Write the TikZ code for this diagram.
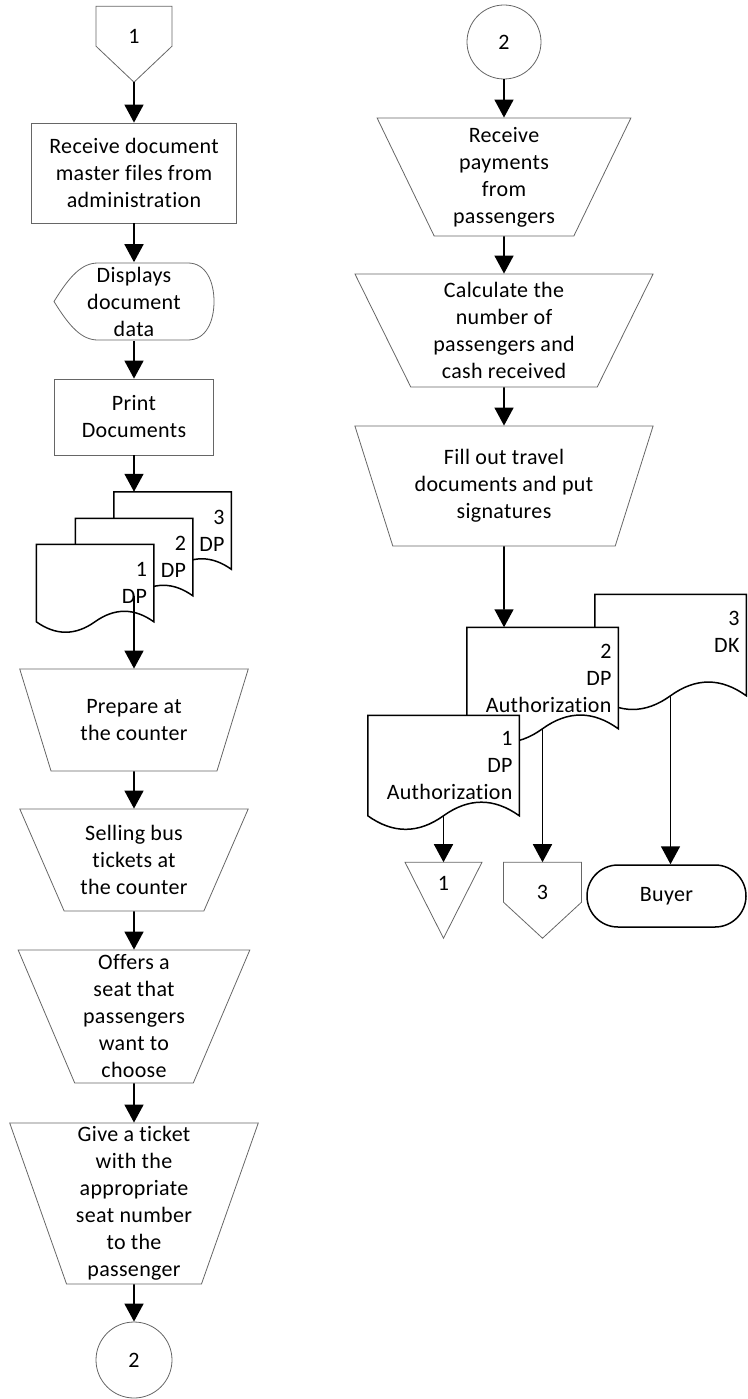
\documentclass[tikz,border=0pt]{standalone}
\usepackage{fontspec}
\setmainfont{Carlito}[Ligatures=NoCommon,LetterSpace=1.5]
\usetikzlibrary{positioning,shapes.geometric,shapes.misc,arrows.meta}

% paper shape with a wavy lower edge
\makeatletter
\newdimen\docL \newdimen\docR \newdimen\docM \newdimen\docT \newdimen\docB \newdimen\docW \newdimen\docH
\pgfdeclareshape{docshape}{
  \inheritsavedanchors[from=rectangle]
  \inheritanchorborder[from=rectangle]
  \inheritanchor[from=rectangle]{center}
  \inheritanchor[from=rectangle]{north}
  \inheritanchor[from=rectangle]{south}
  \inheritanchor[from=rectangle]{east}
  \inheritanchor[from=rectangle]{west}
  \inheritanchor[from=rectangle]{north east}
  \inheritanchor[from=rectangle]{north west}
  \inheritanchor[from=rectangle]{south east}
  \inheritanchor[from=rectangle]{south west}
  \backgroundpath{%
    \southwest \docL=\pgf@x \docB=\pgf@y
    \northeast \docR=\pgf@x \docT=\pgf@y
    \docM=.5\docL \advance\docM by .5\docR
    \docW=\docR \advance\docW by -\docL \docW=.16667\docW
    \docH=\docT \advance\docH by -\docB \docH=.18\docH
    \pgfpathmoveto{\pgfqpoint{\docL}{\docT}}
    \pgfpathlineto{\pgfqpoint{\docR}{\docT}}
    \pgfpathlineto{\pgfqpoint{\docR}{\docB}}
    \pgfpathcurveto{\pgfpointadd{\pgfqpoint{\docR}{\docB}}{\pgfqpoint{-\docW}{\docH}}}
                   {\pgfpointadd{\pgfqpoint{\docM}{\docB}}{\pgfqpoint{\docW}{\docH}}}
                   {\pgfqpoint{\docM}{\docB}}
    \pgfpathcurveto{\pgfpointadd{\pgfqpoint{\docM}{\docB}}{\pgfqpoint{-\docW}{-\docH}}}
                   {\pgfpointadd{\pgfqpoint{\docL}{\docB}}{\pgfqpoint{\docW}{-\docH}}}
                   {\pgfqpoint{\docL}{\docB}}
    \pgfpathclose
  }
}
\makeatother

\begin{document}
\begin{tikzpicture}[x=1pt,y=-1pt,->,>={Triangle[length=18pt,width=19pt]},line width=1.6pt,on grid,
    every node/.style={font=\fontsize{22}{27}\selectfont,align=center,inner sep=0pt},
    shape line/.style={draw=black!60,line width=0.8pt},
    proc/.style={rectangle,shape line},
    manual/.style={trapezium,shape border rotate=180,trapezium stretches=true,shape line},
    conn/.style={circle,shape line},
    paper/.style={docshape,draw,fill=white,line width=1.5pt,align=right,inner xsep=6pt},
    small paper/.style={paper,text width=104pt,minimum height=76pt},
    big paper/.style={paper,text width=138pt,minimum height=100pt}]
  \useasboundingbox (0,0) rectangle (747,1399);

  % left column
  \node (off1) at (134,36) [minimum width=76pt,minimum height=58pt] {1};
  \node[proc,minimum width=205pt,minimum height=100pt] (recv) [below=137pt of off1] {Receive document\\master files from\\administration};
  \node[minimum width=160pt,minimum height=77pt] (disp) [below=128.5pt of recv] {Displays\\document\\data};
  \node[proc,minimum width=159pt,minimum height=76pt] (print) [below=115.5pt of disp] {Print\\Documents};
  \node[small paper] (dp3) [below right=113.5pt and 38.5pt of print] {3\\DP};
  \node[small paper] (dp2) [below=140pt of print] {2\\DP};
  \node[small paper] (dp1) [below left=26pt and 39pt of dp2] {1\\DP};
  \node[manual,minimum width=229pt,minimum height=102pt,trapezium angle=63.9] (prep) [below=163pt of dp2] {Prepare at\\the counter};
  \node[manual,minimum width=229pt,minimum height=102pt,trapezium angle=63.9] (sell) [below=140pt of prep] {Selling bus\\tickets at\\the counter};
  \node[manual,minimum width=232pt,minimum height=133pt,trapezium angle=68.5] (offer) [below=156.5pt of sell] {Offers a\\seat that\\passengers\\want to\\choose};
  \node[manual,minimum width=249pt,minimum height=161pt,trapezium angle=72.4] (give) [below=187pt of offer] {Give a ticket\\with the\\appropriate\\seat number\\to the\\passenger};
  \node[conn,minimum size=76pt] (con2) [below=156.5pt of give] {2};

  % right column
  \node[conn,minimum size=74pt] (con2r) at (504,42) {2};
  \node[manual,minimum width=254pt,minimum height=118pt,trapezium angle=67.4] (pay) [below=135pt of con2r] {Receive\\payments\\from\\passengers};
  \node[manual,minimum width=299pt,minimum height=113pt,trapezium angle=66.3] (calc) [below=153.5pt of pay] {Calculate the\\number of\\passengers and\\cash received};
  \node[manual,minimum width=299pt,minimum height=120pt,trapezium angle=67.4] (fill) [below=155.5pt of calc] {Fill out travel\\documents and put\\signatures};
  \node[big paper] (dk3) [below right=159pt and 166.5pt of fill] {3\\DK\\\mbox{}};
  \node[big paper] (auth2) [below right=192pt and 38.5pt of fill] {2\\DP\\Authorization};
  \node[big paper,minimum height=99pt] (auth1) [below left=87.5pt and 99pt of auth2] {1\\DP\\Authorization};
  \node (ref1) [minimum width=77pt,minimum height=40pt,below=117.5pt of auth1] {1};
  \node (ref3) [minimum width=78pt,minimum height=58pt,below=214pt of auth2] {3};
  \node[rounded rectangle,draw,line width=1.5pt,minimum width=159pt,minimum height=62pt] (buyer) [below right=218pt and 124pt of auth2] {Buyer};

  % outlines of the special symbols
  \draw[-,shape line,shift={(off1.north)}] (-38,0) -- (38,0) -- (38,40) -- (0,76) coordinate (off1 tip) -- (-38,40) -- cycle;
  \draw[-,shape line,shift={(disp.center)}] (-80,0) .. controls (-64,-26) and (-52,-38.5) .. (-36,-38.5) -- (54,-38.5)
      .. controls (72,-38.5) and (80,-20) .. (80,0) .. controls (80,20) and (72,38.5) .. (54,38.5)
      -- (-36,38.5) .. controls (-52,38.5) and (-64,26) .. (-80,0) -- cycle;
  \draw[-,shape line,shift={(ref1.north)}] (-38.5,0) -- (38.5,0) -- (0,76) -- cycle;
  \draw[-,shape line,shift={(ref3.north)}] (-39,0) -- (39,0) -- (39,40) -- (0,76) -- (-39,40) -- cycle;

  \path
    (off1 tip) edge (recv)
    (recv) edge (disp)
    (disp) edge (print)
    (print) edge (print.south |- dp3.north)
    (dp2.south) edge (prep)
    (prep) edge (sell)
    (sell) edge (offer)
    (offer) edge (give)
    (give) edge (con2)
    (con2r) edge (pay)
    (pay) edge (calc)
    (calc) edge (fill)
    (fill) edge (fill.south |- auth2.north)
    (auth1.south) edge (ref1)
    (auth2.south) edge (ref3)
    (dk3.south) edge (dk3.south |- buyer.north)
  ;
\end{tikzpicture}
\end{document}
